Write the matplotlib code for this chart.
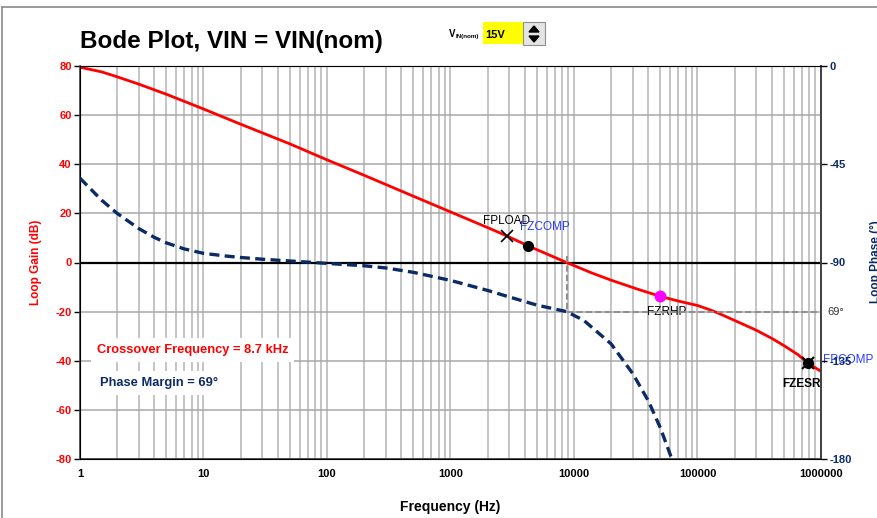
import matplotlib
matplotlib.use("Agg")
import matplotlib.pyplot as plt
from matplotlib.patches import Rectangle, Polygon
from matplotlib.lines import Line2D

plt.rcParams["font.family"] = ["Liberation Sans", "DejaVu Sans"]

# loop gain (dB)
gain_freq = [1, 1.5, 2, 3, 5, 7, 10, 20, 50, 100, 200, 500, 1000, 2000, 2865, 4240,
             8700, 14000, 20000, 31600, 50000, 70000, 100000, 130000, 150000, 200000,
             300000, 400000, 500000, 650000, 790000, 1000000]
gain_db = [79.5, 77.6, 75.6, 72.6, 68.5, 65.6, 62.5, 56.3, 48.3, 41.8, 35.5, 27.0,
           20.6, 14.2, 10.8, 6.8, 0.0, -4.3, -7.2, -10.6, -13.8, -15.7, -17.5, -19.5,
           -20.8, -23.6, -27.6, -30.9, -33.8, -37.5, -41.1, -44.3]

# loop phase (deg)
phase_freq = [1, 1.5, 2, 3, 4, 5, 7, 10, 15, 20, 30, 50, 100, 200, 300, 500, 1000,
              2000, 3000, 5000, 8700, 12000, 20000, 30000, 40000, 50000, 60000, 65000]
phase_deg = [-51.4, -61.5, -67.5, -74.5, -78.5, -81.0, -83.8, -85.8, -87.0, -87.7,
             -88.5, -89.3, -90.4, -91.5, -92.5, -94.5, -98.2, -102.8, -105.8, -109.5,
             -112.5, -116.5, -127.3, -141.0, -153.4, -165.7, -177.8, -184.0]

# poles / zeros marked on the gain curve
fpload = (2865, 10.8)
fzcomp = (4240, 6.8)
fzrhp = (49700, -13.8)
fzesr = (789000, -41.1)

crossover_hz = 8700
pm_phase = -112.5
gain_ticks = [-80, -60, -40, -20, 0, 20, 40, 60, 80]
phase_ticks = [-180, -135, -90, -45, 0]
decades = [1, 10, 100, 1000, 10000, 100000, 1000000]

RED = "#ff0000"
NAVY = "#0b2a66"
BLUE = "#2a3cff"
W, H = 877, 518


def fx(px):
    return px / W


def fy(py):
    return 1 - py / H


fig = plt.figure(figsize=(8.77, 5.18), dpi=100)
ax = fig.add_axes([fx(80), fy(459), fx(821) - fx(80), fy(66) - fy(459)])
ax.set_xscale("log")
ax.set_xlim(1, 1e6)
ax.set_ylim(-80, 80)

# grid
minor = [m * d for d in decades[:-1] for m in range(2, 10)]
for f in minor + decades:
    ax.axvline(f, color="#b4b4b4", lw=1.1, zorder=0)
for g in gain_ticks:
    ax.axhline(g, color="#a8a8a8", lw=1.1, zorder=0)
ax.axhline(0, color="black", lw=1.6, zorder=1)

ax.set_xticks(decades)
ax.set_xticklabels([str(d) for d in decades], fontsize=8, fontweight="bold")
ax.xaxis.set_minor_locator(matplotlib.ticker.NullLocator())
ax.tick_params(axis="x", length=0, pad=7)
ax.set_yticks(gain_ticks)
ax.set_yticklabels([str(g) for g in gain_ticks], fontsize=8, fontweight="bold", color=RED)
ax.tick_params(axis="y", length=4, width=1, pad=2, color="black")
ax.set_xlabel("Frequency (Hz)", fontsize=10, fontweight="bold", labelpad=15)
ax.set_ylabel("Loop Gain (dB)", fontsize=8.5, fontweight="bold", color=RED, labelpad=10)
for s in ["left", "right", "bottom"]:
    ax.spines[s].set_color("#404040")
    ax.spines[s].set_linewidth(1.2)
ax.spines["top"].set_color("#a0a0a0")

ax.plot(gain_freq, gain_db, color=RED, lw=2.0, zorder=5)

ax2 = ax.twinx()
ax2.set_ylim(-180, 0)
ax2.set_yticks(phase_ticks)
ax2.set_yticklabels([str(p) for p in phase_ticks], fontsize=8, fontweight="bold", color=NAVY)
ax2.tick_params(axis="y", length=4, width=1, pad=2, color="black")
ax2.spines["right"].set_color("#404040")
ax2.spines["right"].set_linewidth(1.2)
ax2.plot(phase_freq, phase_deg, color=NAVY, lw=2.4, ls=(0, (3.0, 1.6)), zorder=4)

# crossover / phase margin guides
ax2.plot([crossover_hz, crossover_hz], [-87, pm_phase], color="#909090", lw=1.5, ls=(0, (3, 1.5)))
ax2.plot([crossover_hz, 1e6], [pm_phase, pm_phase], color="#909090", lw=1.5, ls=(0, (3, 1.5)))
ax2.text(1.13e6, pm_phase, "69\u00b0", fontsize=8, va="center", ha="left", color="#333333",
         clip_on=False)

# markers
ax.plot(*fpload, marker="x", color="black", ms=8, mew=1.2, zorder=6)
ax.annotate("FPLOAD", fpload, xytext=(0, 15), textcoords="offset pixels",
            ha="center", va="center", fontsize=8.5, zorder=7)
ax.plot(*fzcomp, marker="o", color="black", ms=7, zorder=6)
ax.annotate("FZCOMP", fzcomp, xytext=(17, 19), textcoords="offset pixels",
            ha="center", va="center", fontsize=8.5, color=BLUE, zorder=7)
ax.plot(*fzrhp, marker="o", color="#ff00ff", ms=7.5, zorder=6)
ax.annotate("FZRHP", fzrhp, xytext=(7, -16), textcoords="offset pixels",
            ha="center", va="center", fontsize=8.5, zorder=7)
ax.plot(*fzesr, marker="o", color="black", ms=7, zorder=6)
ax.plot(*fzesr, marker="x", color="black", ms=9, mew=1.5, zorder=6)
ax.annotate("FZESR", fzesr, xytext=(-7, -21), textcoords="offset pixels",
            ha="center", va="center", fontsize=8.5, fontweight="bold", zorder=7,
            annotation_clip=False)
ax.annotate("FPCOMP", fzesr, xytext=(15, 3), textcoords="offset pixels",
            ha="left", va="center", fontsize=8.5, color=BLUE, zorder=7,
            annotation_clip=False)

# summary boxes
fig.text(fx(97), fy(350), "Crossover Frequency = 8.7 kHz", fontsize=9.3, fontweight="bold",
         color=RED, va="center", ha="left",
         bbox=dict(facecolor="white", edgecolor="none", pad=4))
fig.text(fx(100), fy(383), "Phase Margin = 69\u00b0", fontsize=9.3, fontweight="bold",
         color=NAVY, va="center", ha="left",
         bbox=dict(facecolor="white", edgecolor="none", pad=4))

fig.text(fx(876), fy(262), "Loop Phase (\u00b0)", fontsize=8.5, fontweight="bold",
         color=NAVY, rotation=90, va="center", ha="center")

# title and input selector
fig.text(fx(80), fy(48), "Bode Plot, VIN = VIN(nom)", fontsize=17.5, fontweight="bold",
         ha="left", va="baseline")
fig.text(fx(449), fy(37), "V", fontsize=7, fontweight="bold", ha="left", va="baseline")
fig.text(fx(456), fy(38), "IN(nom)", fontsize=4.5, fontweight="bold", ha="left", va="baseline")
fig.patches.append(Rectangle((fx(483), fy(44)), fx(40), fy(22) - fy(44), transform=fig.transFigure,
                             facecolor="#ffff00", edgecolor="none"))
fig.text(fx(485), fy(38), "15V", fontsize=8, fontweight="bold", ha="left", va="baseline")
fig.patches.append(Rectangle((fx(523), fy(45)), fx(22), fy(22) - fy(45), transform=fig.transFigure,
                             facecolor="#e4e4e4", edgecolor="#909090", lw=0.8))
fig.patches.append(Polygon([(fx(529), fy(32)), (fx(539), fy(32)), (fx(534), fy(26))],
                           closed=True, transform=fig.transFigure, color="black"))
fig.patches.append(Polygon([(fx(529), fy(36)), (fx(539), fy(36)), (fx(534), fy(42))],
                           closed=True, transform=fig.transFigure, color="black"))

# outer frame
fig.add_artist(Line2D([fx(2), 1], [fy(7), fy(7)], color="#8a8a8a", lw=1.2))
fig.add_artist(Line2D([fx(2), fx(2)], [fy(7), 0], color="#8a8a8a", lw=1.2))

fig.savefig("out.png", dpi=100)
